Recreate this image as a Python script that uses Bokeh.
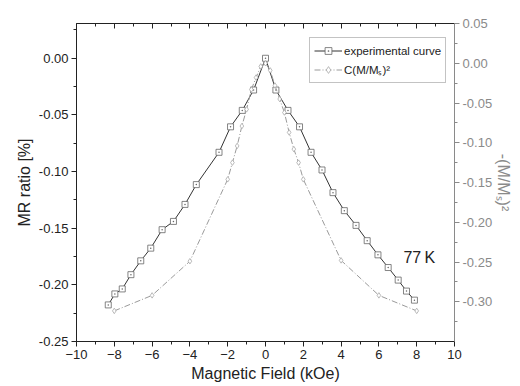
from bokeh.plotting import figure
from bokeh.models import (Range1d, LinearAxis, SingleIntervalTicker, NumeralTickFormatter,
                          Legend, LegendItem, Label)
from bokeh.embed import file_html
from bokeh.resources import INLINE

# ---------------- data ----------------
exp_field = [-8.32, -7.97, -7.58, -7.12, -6.60, -6.07, -5.47, -4.87, -4.26, -3.66,
             -2.46, -1.85, -1.23, -0.63, 0.0, 0.55, 1.19, 1.80, 2.41, 2.99, 3.57,
             4.17, 4.79, 5.38, 5.95, 6.49, 7.02, 7.46, 7.88]
exp_mr = [-0.2177, -0.2080, -0.2036, -0.1910, -0.1788, -0.1676, -0.1513, -0.1440, -0.1290, -0.1115,
          -0.0830, -0.0605, -0.0460, -0.0280, 0.0, -0.0280, -0.0460, -0.0605, -0.0830, -0.0986, -0.1186,
          -0.1345, -0.1475, -0.1610, -0.1735, -0.1847, -0.1958, -0.2055, -0.2135]

c_field = [-8.0, -6.0, -4.0, -2.0, -1.75, -1.5, -1.25, -1.0, -0.75, -0.5, -0.25, 0.0,
           0.25, 0.5, 0.75, 1.0, 1.25, 1.5, 1.75, 2.0, 4.0, 6.0, 8.0]
c_m2 = [-0.3115, -0.292, -0.249, -0.146, -0.125, -0.104, -0.079, -0.058, -0.033, -0.018, -0.004, 0.0,
        -0.009, -0.028, -0.045, -0.062, -0.087, -0.108, -0.125, -0.146, -0.248, -0.292, -0.3115]

x_ticks = [-10, -8, -6, -4, -2, 0, 2, 4, 6, 8, 10]
x_label = "Magnetic Field (kOe)"
y_label = "MR ratio [%]"
y2_label = "-(M/M\u209b)\u00b2"
leg_exp = "experimental curve"
leg_c = "C(M/M\u209b)\u00b2"
temp_text = "77\u2009K"

FONT = "Liberation Sans"
GRAY = "#8a8a8a"

p = figure(frame_width=378, frame_height=318, output_backend="svg", toolbar_location=None,
           x_range=Range1d(-10, 10), y_range=Range1d(-0.25, 0.0307),
           min_border_left=76, min_border_right=58, min_border_top=23, min_border_bottom=42,
           background_fill_color="white", border_fill_color="white")
p.xgrid.visible = False
p.ygrid.visible = False
p.outline_line_color = None
p.extra_y_ranges = {"m2": Range1d(-0.35, 0.05)}

# bottom axis
xax = p.xaxis[0]
xax.ticker = SingleIntervalTicker(interval=2, num_minor_ticks=2)
# left axis
yax = p.yaxis[0]
yax.ticker = SingleIntervalTicker(interval=0.05, num_minor_ticks=2)
yax.formatter = NumeralTickFormatter(format="0.00")

for ax in (xax, yax):
    ax.axis_line_color = "#222"
    ax.major_tick_line_color = "#222"
    ax.minor_tick_line_color = "#222"
    ax.major_tick_out = 5
    ax.major_tick_in = 0
    ax.minor_tick_out = 3
    ax.minor_tick_in = 0
    ax.major_label_text_font = FONT
    ax.major_label_text_font_size = "13px"
    ax.major_label_text_color = "#222"
    ax.axis_label_text_font = FONT
    ax.axis_label_text_font_size = "16px"
    ax.axis_label_text_font_style = "normal"
    ax.axis_label_text_color = "#222"
    ax.major_label_standoff = 3
    ax.axis_label_standoff = 3
xax.axis_label = x_label
yax.axis_label = y_label

# top axis (ticks only, no labels)
top = LinearAxis(ticker=SingleIntervalTicker(interval=2, num_minor_ticks=2),
                 major_label_overrides={t: "" for t in x_ticks}, major_label_standoff=0,
                 major_tick_in=5, major_tick_out=0, minor_tick_in=3, minor_tick_out=0,
                 axis_line_color="#222", major_tick_line_color="#222", minor_tick_line_color="#222")
p.add_layout(top, "above")

# right axis
rax = LinearAxis(y_range_name="m2", ticker=SingleIntervalTicker(interval=0.05, num_minor_ticks=2),
                 formatter=NumeralTickFormatter(format="0.00"),
                 axis_label=y2_label,
                 axis_line_color=GRAY, major_tick_line_color=GRAY, minor_tick_line_color=GRAY,
                 major_tick_out=5, major_tick_in=0, minor_tick_out=3, minor_tick_in=0,
                 major_label_text_font=FONT, major_label_text_font_size="13px",
                 major_label_text_color=GRAY, major_label_standoff=3,
                 axis_label_text_font=FONT, axis_label_text_font_size="16px",
                 axis_label_text_font_style="normal", axis_label_text_color=GRAY,
                 axis_label_standoff=0)
p.add_layout(rax, "right")

# experimental curve
l1 = p.line(exp_field, exp_mr, line_color="#333", line_width=1)
s1 = p.scatter(exp_field, exp_mr, marker="square_dot", size=6, line_color="#666",
               fill_color="white", line_width=0.8)

# C(M/Ms)^2 curve
l2 = p.line(c_field, c_m2, y_range_name="m2", line_color="#9a9a9a", line_width=1,
            line_dash="6 2 1 2")
s2 = p.scatter(c_field, c_m2, y_range_name="m2", marker="diamond", size=5.5,
               line_color="#a8a8a8", fill_color="white", line_width=0.8)

legend = Legend(items=[LegendItem(label=leg_exp, renderers=[l1, s1]),
                       LegendItem(label=leg_c, renderers=[l2, s2])],
                location=(233, 258), margin=0,
                border_line_color="#888", border_line_width=1,
                label_text_font=FONT, label_text_font_size="11.5px", label_text_color="#222",
                glyph_width=28, glyph_height=17, label_height=17, padding=4, spacing=2,
                label_standoff=2, background_fill_alpha=1)
p.add_layout(legend, "center")

p.add_layout(Label(x=7.3, y=-0.1755, text=temp_text, text_font=FONT, text_font_size="16px",
                   text_color="#222", text_baseline="middle", text_align="left"))

open("out.html", "w").write(file_html(p, INLINE))
